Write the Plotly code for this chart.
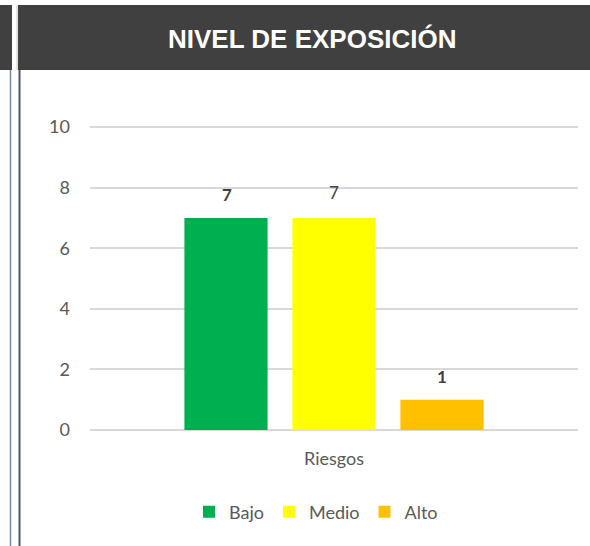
import plotly.graph_objects as go

CATEGORY = ["Riesgos"]
SERIES = ["Bajo", "Medio", "Alto"]
VALUES = [7, 7, 1]
COLORS = ["#00b050", "#ffff00", "#ffc000"]
BOLD_LABEL = [True, False, True]
Y_TICKS = [0, 2, 4, 6, 8, 10]

W, H = 590, 546
L, R, T, B = 90, 12, 124, 116
PW, PH = W - L - R, H - T - B
Y_MAX = 10.1

def px(x):
    return (x - L) / PW

def py(y):
    return 1 - (y - T) / PH

FONT = "Lato, 'Open Sans', sans-serif"

fig = go.Figure()
for name, val, col in zip(SERIES, VALUES, COLORS):
    fig.add_trace(go.Bar(
        x=CATEGORY, y=[val], name=name,
        marker=dict(color=col, line=dict(width=0)),
        offsetgroup=name,
    ))

# data labels
annots = []
for i, (val, bold) in enumerate(zip(VALUES, BOLD_LABEL)):
    txt = f"<b>{val}</b>" if bold else str(val)
    annots.append(dict(
        x=CATEGORY[0], y=val, xref="x", yref="y",
        xshift=(i - 1) * 107.5, yshift=23 if bold else 25,
        text=txt, showarrow=False,
        font=dict(family=FONT, size=17, color="#404040"),
    ))

# title text
annots.append(dict(
    x=px(312), y=py(39), xref="paper", yref="paper",
    text="<b>NIVEL DE EXPOSICIÓN</b>", showarrow=False,
    xanchor="center", yanchor="middle",
    font=dict(family="'Liberation Sans', Arial, sans-serif", size=26, color="white"),
))

shapes = [
    # header band
    dict(type="rect", xref="paper", yref="paper", layer="below",
         x0=px(18), x1=px(W + 5), y0=py(70), y1=py(5),
         fillcolor="#404040", line=dict(width=0)),
    dict(type="rect", xref="paper", yref="paper", layer="below",
         x0=px(-5), x1=px(12), y0=py(70), y1=py(5),
         fillcolor="#404040", line=dict(width=0)),
    dict(type="line", xref="paper", yref="paper",
         x0=px(17), x1=px(17), y0=py(70), y1=py(5),
         line=dict(color="#c8c8c8", width=1)),
    # left border lines
    dict(type="line", xref="paper", yref="paper",
         x0=px(10.5), x1=px(10.5), y0=py(H + 5), y1=py(70),
         line=dict(color="#7a889c", width=1.5)),
    dict(type="line", xref="paper", yref="paper",
         x0=px(19.5), x1=px(19.5), y0=py(H + 5), y1=py(70),
         line=dict(color="#44546a", width=2)),
]

fig.update_layout(
    width=W, height=H,
    margin=dict(l=L, r=R, t=T, b=B),
    paper_bgcolor="white", plot_bgcolor="white",
    barmode="group", bargap=0.336, bargroupgap=0.23,
    showlegend=True,
    legend=dict(orientation="h", x=px(316), y=py(512),
                xanchor="center", yanchor="middle",
                font=dict(family=FONT, size=18, color="#595959"),
                traceorder="normal", itemclick=False, itemwidth=30),
    xaxis=dict(showgrid=False, showline=False, ticks="",
               tickfont=dict(family=FONT, size=18, color="#595959"),
               ticklabelstandoff=16),
    yaxis=dict(range=[0, Y_MAX], tickvals=Y_TICKS, showgrid=True,
               gridcolor="#d9d9d9", gridwidth=1.5, zeroline=True,
               zerolinecolor="#d9d9d9", zerolinewidth=1.5, showline=False,
               tickfont=dict(family=FONT, size=18, color="#595959"),
               ticklabelstandoff=19),
    annotations=annots,
    shapes=shapes,
)

fig.write_html("out.html", config={"displayModeBar": False},
               post_script="document.body.style.margin='0';")
